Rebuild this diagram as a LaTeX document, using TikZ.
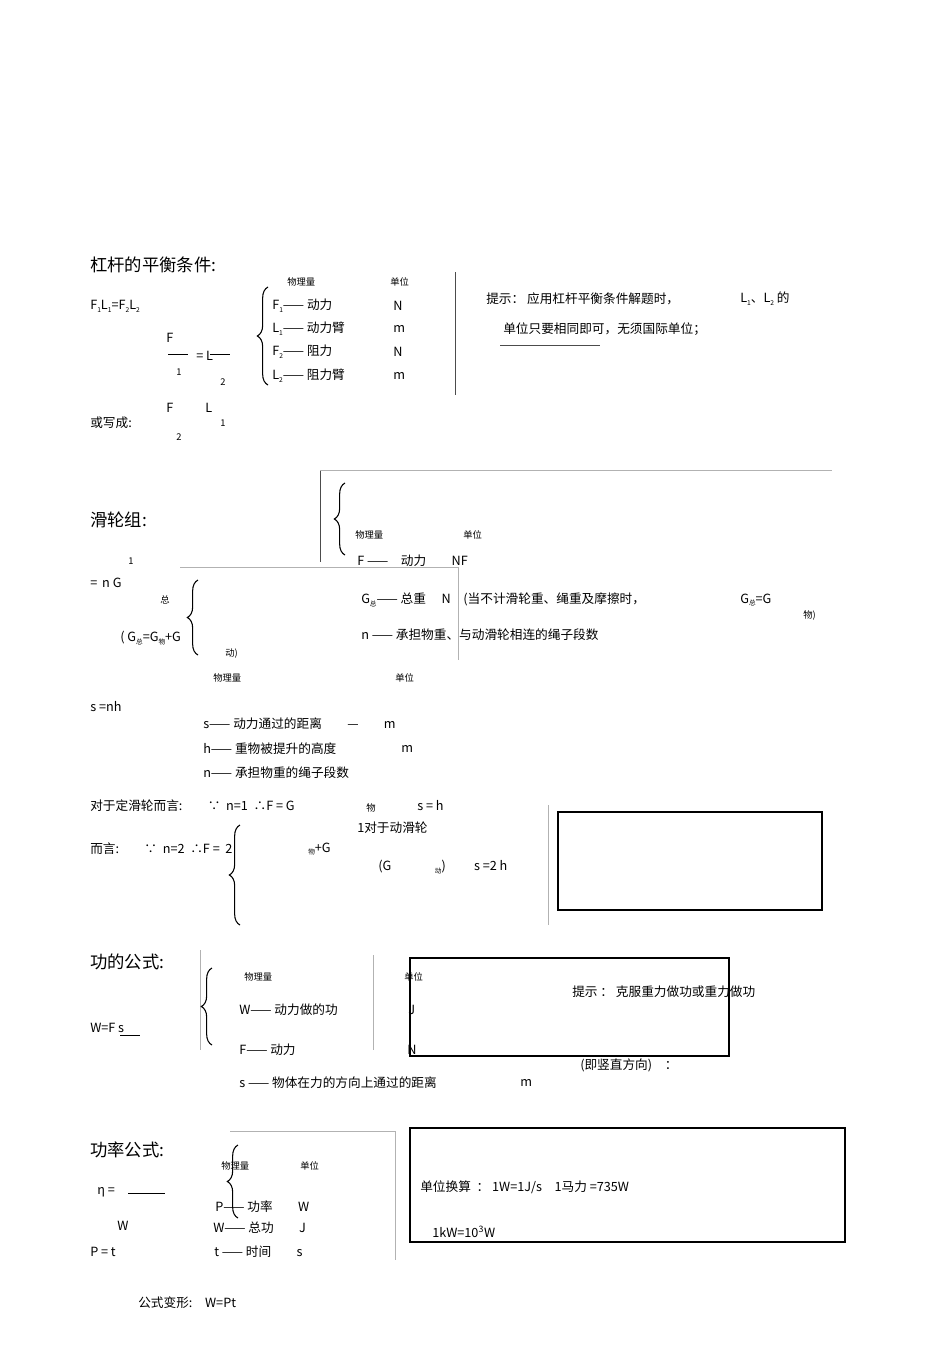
\documentclass[tikz,border=0pt]{standalone}
\usepackage{fontspec}
\setmainfont{Liberation Sans}
\newfontfamily\cjk{Noto Sans CJK SC}
\usetikzlibrary{decorations.pathreplacing}
\newcommand\sbs[1]{\raisebox{-0.4ex}{\fontsize{5}{5}\selectfont #1}}
\tikzset{
 t/.style={anchor=west,inner sep=0pt,font=\cjk\fontsize{9.5}{10}\selectfont},
 s/.style={anchor=west,inner sep=0pt,font=\cjk\fontsize{7}{8}\selectfont},
 h/.style={anchor=west,inner sep=0pt,font=\cjk\fontsize{13}{14}\selectfont},
 ln/.style={line width=0.5pt,black!70},
 br/.style={decorate,decoration={brace,amplitude=8pt},line width=0.8pt}
}
\begin{document}
\begin{tikzpicture}[x=0.75pt,y=-0.75pt]
\useasboundingbox (0,0) rectangle (950,1345);
% lever
\node[h] (h1) at (90,265) {杠杆的平衡条件:};
\node[t] at (90,306) {F\sbs{1}L\sbs{1}=F\sbs{2}L\sbs{2}};
\draw[br] (268,385) -- (268,287);
\node[s] at (287,282) {物理量}; \node[s] at (390,282) {单位};
\node[t] at (272,306) {F\sbs{1}—— 动力}; \node[t] at (393,306) {N};
\node[t] at (272,329) {L\sbs{1}—— 动力臂}; \node[t] at (393,329) {m};
\node[t] at (272,352) {F\sbs{2}—— 阻力}; \node[t] at (393,352) {N};
\node[t] at (272,376) {L\sbs{2}—— 阻力臂}; \node[t] at (393,376) {m};
\draw[ln] (455,272) -- (455,395);
\node[t] at (486,299) {提示： 应用杠杆平衡条件解题时，};
\node[t] at (740,299) {L\sbs{1}、L\sbs{2} 的};
\node[t] at (503,329) {单位只要相同即可，无须国际单位；};
\draw[ln] (500,345) -- (600,345);
\node[t] at (166,338) {F}; \draw (168,354) -- (188,354);
\node[t] at (196,356) {= L}; \draw (210,354) -- (230,354);
\node[s] at (176,372) {1}; \node[s] at (220,382) {2};
\node[t] at (90,423) {或写成:};
\node[t] at (166,408) {F}; \node[t] at (205,408) {L};
\node[s] at (176,437) {2}; \node[s] at (220,423) {1};
% pulley
\node[h] at (90,520) {滑轮组:};
\draw[ln] (320,470) -- (320,562); \draw[ln,black!30] (320,470) -- (832,470);
\draw[br] (345,555) -- (345,483);
\node[s] at (355,535) {物理量}; \node[s] at (463,535) {单位};
\node[t] at (357,561) {F ——\quad 动力\qquad NF};
\node[s] at (128,561) {1};
\node[t] at (90,583) {= \,n G};
\node[s] at (160,600) {总};
\draw[br] (198,655) -- (198,580);
\draw[ln,black!30] (180,567) -- (458,567); \draw[ln,black!30] (458,567) -- (458,660);
\node[t] at (361,600) {G\sbs{总}—— 总重\quad\ N\quad (当不计滑轮重、绳重及摩擦时，};
\node[t] at (740,600) {G\sbs{总}=G}; \node[s] at (803,615) {物)};
\node[t] at (120,638) {( G\sbs{总}=G\sbs{物}+G}; \node[s] at (225,654) {动)};
\node[t] at (361,635) {n —— 承担物重、与动滑轮相连的绳子段数};
\node[s] at (213,678) {物理量}; \node[s] at (395,678) {单位};
\node[t] at (90,707) {s =nh};
\node[t] at (203,724) {s—— 动力通过的距离\qquad —\qquad m};
\node[t] at (203,749) {h—— 重物被提升的高度};\node[t] at (401,749) {m};
\node[t] at (203,773) {n—— 承担物重的绳子段数};
\node[t] at (90,806) {对于定滑轮而言:\qquad ∵\ \ n=1\ \ ∴F = G};
\node[s] at (366,808) {物}; \node[t] at (417,806) {s = h};
\node[t] at (357,828) {1对于动滑轮};
\node[t] at (90,849) {而言:\qquad ∵\ \ n=2\ \ ∴F =\ \ 2};
\node[t] at (308,849) {\sbs{物}+G};
\node[t] at (378,867) {(G\qquad\quad\ \ \sbs{动}) \qquad s =2 h};
\draw[br] (240,925) -- (240,825);
\draw[ln,black!30] (548,805) -- (548,925);
\draw[line width=1pt] (558,812) rectangle (822,910);
% work
\node[h] at (90,962) {功的公式:};
\draw[ln,black!30] (200,950) -- (200,1050); \draw[ln,black!30] (373,955) -- (373,1050);
\draw[br] (212,1045) -- (212,968);
\node[s] at (244,977) {物理量}; \node[s] at (404,977) {单位};
\node[t] at (239,1010) {W—— 动力做的功}; \node[t] at (408,1010) {J};
\node[t] at (239,1050) {F—— 动力}; \node[t] at (407,1050) {N};
\node[t] at (90,1028) {W=F s}; \draw (120,1035) -- (140,1035);
\draw[line width=0.8pt] (410,958) rectangle (729,1056);
\node[t] at (572,992) {提示 ： 克服重力做功或重力做功};
\node[t] at (580,1065) {(即竖直方向)\quad ：};
\node[t] at (239,1083) {s —— 物体在力的方向上通过的距离};\node[t] at (520,1083) {m};
% power
\node[h] at (90,1150) {功率公式:};
\draw[ln,black!30] (230,1131) -- (395,1131) -- (395,1260);
\draw[br] (238,1218) -- (238,1145);
\node[s] at (221,1166) {物理量}; \node[s] at (300,1166) {单位};
\node[t] at (97,1192) {η =}; \draw (128,1193) -- (165,1193);
\node[t] at (117,1226) {W};
\node[t] at (90,1252) {P = t};
\node[t] at (215,1207) {P—— 功率\qquad W};
\node[t] at (213,1228) {W—— 总功\qquad J};
\node[t] at (214,1252) {t —— 时间\qquad s};
\draw[line width=0.8pt] (410,1128) rectangle (845,1242);
\node[t] at (420,1187) {单位换算\ \ ：\ 1W=1J/s\quad 1马力 =735W};
\node[t] at (432,1232) {1kW=10\textsuperscript{3}W};
\node[t] at (138,1303) {公式变形:\quad W=Pt};
\end{tikzpicture}
\end{document}
